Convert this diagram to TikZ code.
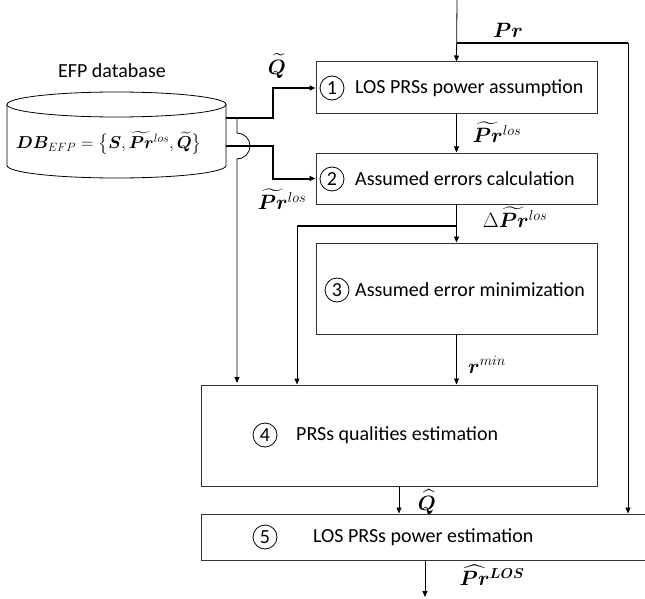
\documentclass[tikz,border=0pt]{standalone}
\usepackage{amsmath,bm}
\usepackage{fontspec}
\setmainfont{Carlito}
\usetikzlibrary{arrows.meta}

\begin{document}
\begin{tikzpicture}[x=1pt,y=1pt,
    box/.style={draw=black!80, line width=1pt, minimum width=281pt},
    num/.style={circle, draw, line width=0.8pt, inner sep=0pt, minimum size=24pt, font=\fontsize{20}{24}\selectfont},
    txt/.style={anchor=west, inner sep=0pt, font=\fontsize{20}{24}\selectfont},
    lbl/.style={inner sep=0pt, font=\fontsize{20}{24}\selectfont},
    link/.style={line width=0.8pt, -{Triangle[length=6pt,width=5pt]}},
    bold/.style={line width=2pt},
  ]
  \useasboundingbox (0,0) rectangle (645,-599);

  % database
  \draw[line width=0.8pt] (7,-104.5) -- (7,-165.5) arc[start angle=180, end angle=360, x radius=109.5pt, y radius=12.5pt] -- (226,-104.5);
  \draw[line width=0.8pt] (116.5,-104.5) ellipse [x radius=109.5pt, y radius=12.5pt];
  \node[lbl] (dbname) at (112,-71) {EFP database};
  \node[lbl, font=\fontsize{18.5}{22}\selectfont] (db) at (109,-143) {$\bm{DB}_{EFP}=\big\{\bm{S},\smash[t]{\widetilde{\bm{Pr}}}^{los},\widetilde{\bm{Q}}\big\}$};

  % blocks
  \node[box, minimum height=52pt] (b1) at (456.5,-88) {};
  \node[box, minimum height=51pt] (b2) at (456.5,-178.5) {};
  \node[box, minimum height=91pt] (b3) at (456.5,-288.5) {};
  \node[box, minimum width=396pt, minimum height=101pt] (b4) at (399,-435.5) {};
  \node[box, minimum width=449pt, minimum height=46pt] (b5) at (425.5,-537) {};

  \node[num] (n1) at (332,-88) {1};
  \node[num] (n2) at (332,-179) {2};
  \node[num] (n3) at (337,-290) {3};
  \node[num] (n4) at (265,-435) {4};
  \node[num] (n5) at (265,-537) {5};
  \node[txt] (t1) at (355,-88) {LOS PRSs power assumption};
  \node[txt] (t2) at (355,-179) {Assumed errors calculation};
  \node[txt] (t3) at (355,-290) {Assumed error minimization};
  \node[txt] (t4) at (296,-435) {PRSs qualities estimation};
  \node[txt] (t5) at (313,-537) {LOS PRSs power estimation};

  % connection points
  \coordinate (in) at (457,0);
  \coordinate (prj) at (457,-43);
  \coordinate (prc) at (628,-43);
  \coordinate (dj) at (457,-226);
  \coordinate (dk) at (297,-226);
  \coordinate (dbq) at (226,-118);
  \coordinate (dbp) at (226,-146);
  \coordinate (k1) at (273,-88);
  \coordinate (k2) at (273,-178.5);
  \coordinate (hj) at (237,-118);
  \coordinate (out) at (425,-597);

  % connectors
  \draw[link] (in) -- (b1.north);
  \draw[bold] (prj) -- (prc);
  \draw[link] (prc) -- (prc |- b5.north);
  \draw[link] (b1) -- (b2);
  \draw[link] (b2) -- (b3);
  \draw[bold] (dj) -- (dk);
  \draw[link] (dk) -- (dk |- b4.north);
  \draw[link] (b3.south) -- (b3.south |- b4.north);
  \draw[link] (b4.south) -- (b4.south |- b5.north);
  \draw[link] (b5.south -| out) -- (out);
  \draw[bold, -{Triangle[length=6pt,width=5pt]}] (dbq) -| (k1) -- (b1.west);
  \draw[bold, -{Triangle[length=6pt,width=5pt]}] (dbp) -| (k2) -- (b2.west);
  \draw[link] (hj) -- (237,-133) arc[start angle=90, end angle=-90, radius=13pt] -- (237,-383);

  % labels
  \node[lbl] (lpr) at (508,-30) {$\bm{Pr}$};
  \node[lbl] (lqt) at (277,-66) {$\widetilde{\bm{Q}}$};
  \node[lbl] (lpt1) at (497,-134) {$\smash[t]{\widetilde{\bm{Pr}}}^{los}$};
  \node[lbl] (lpt2) at (282,-201) {$\smash[t]{\widetilde{\bm{Pr}}}^{los}$};
  \node[lbl] (ldp) at (515,-219) {$\Delta\smash[t]{\widetilde{\bm{Pr}}}^{los}$};
  \node[lbl] (lr) at (487,-365) {$\bm{r}^{min}$};
  \node[lbl] (lqh) at (427,-502) {$\widehat{\bm{Q}}$};
  \node[lbl] (lph) at (492,-577) {$\smash[t]{\widehat{\bm{Pr}}}^{\bm{LOS}}$};
\end{tikzpicture}
\end{document}
